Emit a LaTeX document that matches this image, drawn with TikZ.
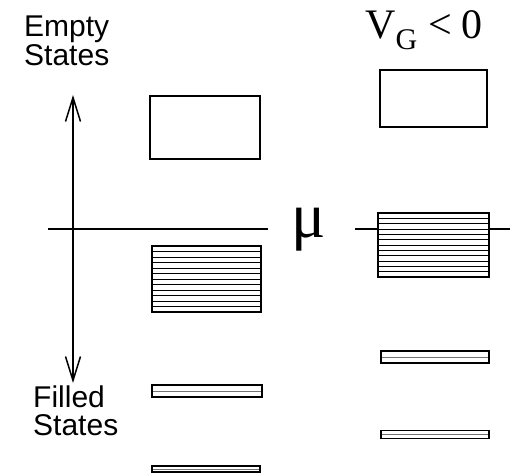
\documentclass[tikz,border=0pt]{standalone}
\usepackage{fontspec}
\setmainfont{Liberation Serif}
\newfontfamily\labelfont{Liberation Sans}
\usetikzlibrary{arrows.meta,calc}
\begin{document}
\begin{tikzpicture}[x=1pt,y=-1pt,
  box/.style={draw,line width=1.8pt,fill=white,inner sep=0pt,outer sep=0pt},
  hatched/.style={box,path picture={
      \foreach \k in {1,...,11}
        \draw[line width=0.9pt]
          ($(path picture bounding box.north west)!\k/12!(path picture bounding box.south west)$) --
          ($(path picture bounding box.north east)!\k/12!(path picture bounding box.south east)$);}},
  band/.style={box,path picture={
      \draw[line width=0.7pt,black!55]
        (path picture bounding box.west) -- (path picture bounding box.east);}},
  lbl/.style={font=\labelfont\fontsize{30}{30}\selectfont,anchor=base west,inner sep=0pt},
  level/.style={line width=1.8pt},
  axis/.style={line width=1.5pt,{Straight Barb[length=24pt,width=15pt,line width=1.5pt]}-{Straight Barb[length=24pt,width=15pt,line width=1.5pt]}}
]
\useasboundingbox (0,0) rectangle (510,474);
% labels
\node[lbl] (empty1) at (24,36) {Empty};
\node[lbl] (empty2) at (24,65) {States};
\node[lbl] (filled1) at (33,407) {Filled};
\node[lbl] (filled2) at (33,435) {States};
\node[anchor=base west,inner sep=0pt,font=\fontsize{42}{42}\selectfont] (vg) at (365,38)
  {V\raisebox{-11pt}{\fontsize{30}{30}\selectfont G}\hspace{11pt}<\hspace{10pt}0};
\node[anchor=base,inner sep=0pt,font=\fontsize{64}{64}\selectfont] (mu) at (309,237) {μ};
% axis
\coordinate (atop) at (73,95);
\coordinate (abot) at (73,383);
\draw[axis] (atop) -- (abot);
% Fermi level lines
\coordinate (l1) at (48,229);
\coordinate (l2) at (268,229);
\coordinate (r1) at (355,229);
\coordinate (r2) at (510,229);
\draw[level] (l1) -- (l2);
\draw[level] (r1) -- (r2);
% left column
\node[box,minimum width=110pt,minimum height=63pt] (le) at (205,127.5) {};
\node[hatched,minimum width=109pt,minimum height=66pt] (lf) at (206.5,279) {};
\node[band,minimum width=110pt,minimum height=12pt] (lb1) at (207,391) {};
\node[band,minimum width=108pt,minimum height=6pt] (lb2) at (206,469) {};
% right column
\node[box,minimum width=107pt,minimum height=57pt] (re) at (433.5,98.5) {};
\node[hatched,minimum width=111pt,minimum height=64pt] (rf) at (433.5,245) {};
\node[band,minimum width=108pt,minimum height=12pt] (rb1) at (435,357) {};
\node[band,minimum width=108pt,minimum height=8pt] (rb2) at (435,434.5) {};
\end{tikzpicture}
\end{document}
